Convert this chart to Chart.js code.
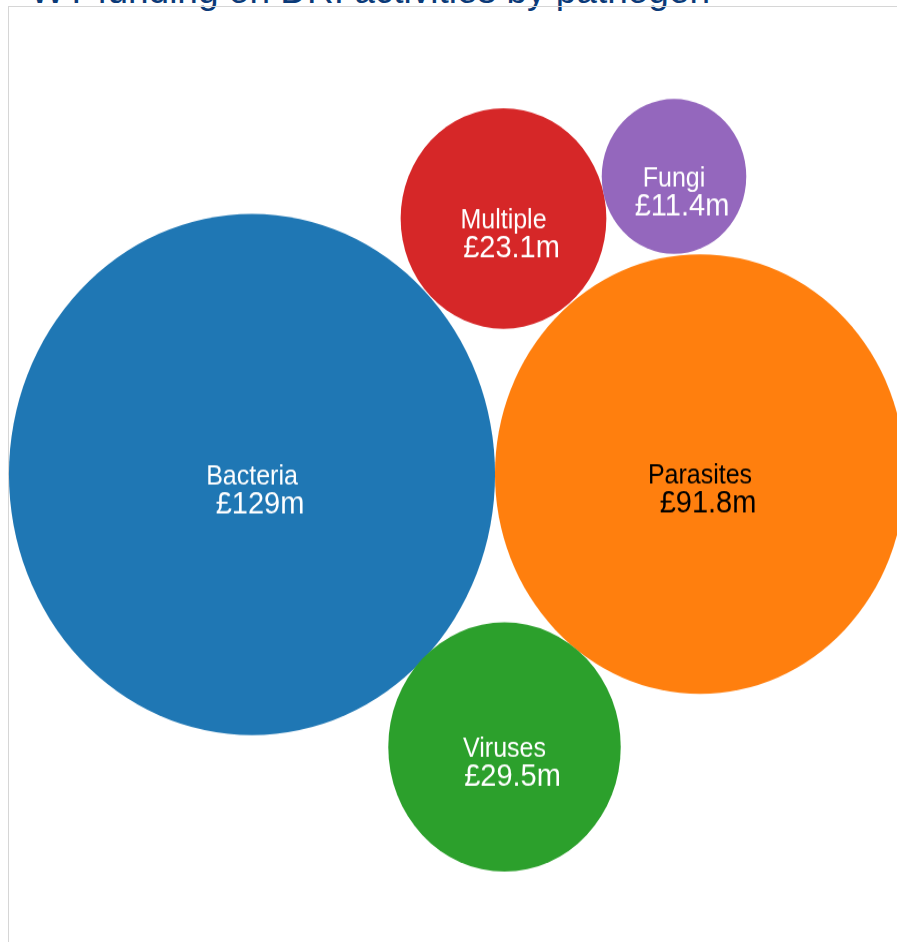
<!DOCTYPE html>
<html>
<head>
<meta charset="utf-8">
<script src="https://cdn.jsdelivr.net/npm/chart.js@4.4.0/dist/chart.umd.min.js"></script>
<style>
  html, body { margin: 0; padding: 0; background: #fff; overflow: hidden; }
  body { width: 897px; height: 942px; position: relative; }
  #title {
    position: absolute; left: 30px; top: -30px; white-space: nowrap;
    font-family: "Liberation Sans", Arial, sans-serif; font-size: 37px; color: #0b3a78;
  }
  #frame {
    position: absolute; left: 8px; top: 6px; width: 900px; height: 950px;
    border-left: 1px solid #d6d6d6; border-top: 1px solid #d6d6d6;
  }
  #wrap {
    position: absolute; left: 0; top: 0; width: 897px; height: 879px;
    transform: scaleY(1.072); transform-origin: 0 0;
  }
</style>
</head>
<body>
<div id="title">WT funding on DRI activities by pathogen</div>
<div id="frame"></div>
<div id="wrap"><canvas id="myChart"></canvas></div>
<script>
// funding by pathogen (£ million)
const pathogens = ['Bacteria', 'Parasites', 'Multiple', 'Fungi', 'Viruses'];
const funding = [129, 91.8, 23.1, 11.4, 29.5];
const valueLabels = ['£129m', '£91.8m', '£23.1m', '£11.4m', '£29.5m'];
// packed layout, centre of each bubble (units from pack centre)
const packX = [-196.5, 251.5, 55, 225.5, 56];
const packY = [-3.1, -2.7, 235.7, 274.9, -257.3];
const colours = ['#1f77b4', '#ff7f0e', '#d62728', '#9467bd', '#2ca02c'];
const textColours = ['#fff', '#000', '#fff', '#fff', '#fff'];

// bubble chart that doesn't shrink the plot area to fit the bubbles
class PackedBubble extends Chart.BubbleController {
    getMaxOverflow() { return 0; }
}
PackedBubble.id = 'packedBubble';
Chart.register(PackedBubble);

drawChart();

function drawChart() {
    const points = pathogens.map((p, i) => ({ x: packX[i], y: packY[i] }));

    // names + amounts in the middle of each bubble
    const bubbleLabels = {
        id: 'bubbleLabels',
        afterDatasetsDraw(chart) {
            const ctx = chart.ctx;
            const meta = chart.getDatasetMeta(0);
            ctx.save();
            ctx.textAlign = 'center';
            ctx.textBaseline = 'alphabetic';
            meta.data.forEach((el, i) => {
                ctx.fillStyle = textColours[i];
                ctx.font = '25px "Liberation Sans", Arial, sans-serif';
                ctx.fillText(pathogens[i], el.x, el.y + 9);
                ctx.font = '29px "Liberation Sans", Arial, sans-serif';
                ctx.fillText(valueLabels[i], el.x + 8, el.y + 36);
            });
            ctx.restore();
        }
    };

    const config = {
        type: 'packedBubble',
        data: {
            labels: pathogens,
            datasets: [{
                data: points,
                backgroundColor: colours,
                borderWidth: 0,
                clip: false,
                radius: c => Math.sqrt(funding[c.dataIndex]) * 21.4 * c.chart.width / 897
            }]
        },
        options: {
            responsive: true,
            maintainAspectRatio: false,
            animation: false,
            events: [],
            layout: { padding: 0 },
            scales: {
                x: { type: 'linear', display: false, min: -448.5, max: 448.5 },
                y: { type: 'linear', display: false, min: -439.5, max: 439.5 }
            },
            plugins: {
                legend: { display: false },
                tooltip: { enabled: false }
            }
        },
        plugins: [bubbleLabels]
    };

    new Chart(document.getElementById('myChart'), config);
}
</script>
</body>
</html>
